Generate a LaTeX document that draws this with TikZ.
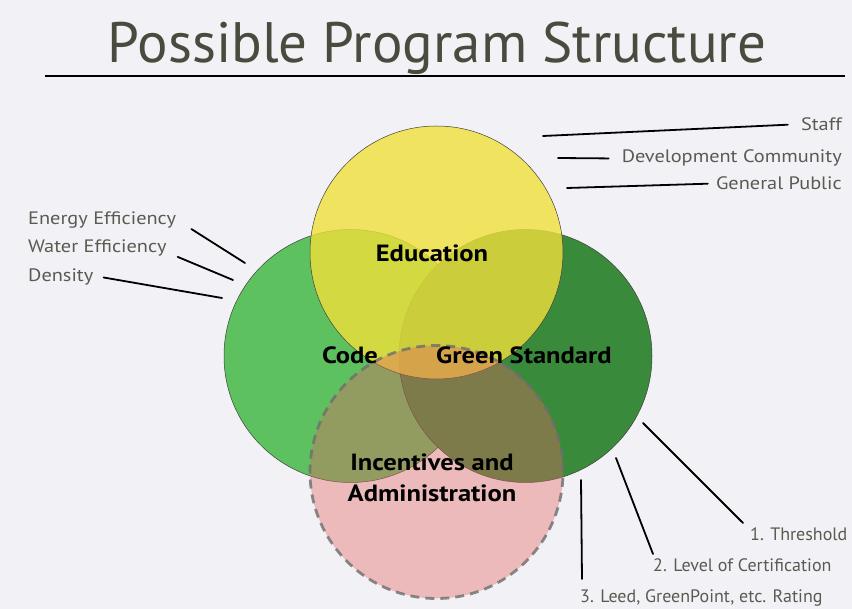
\documentclass[tikz,border=0pt]{standalone}
\usepackage{fontspec}
\setmainfont{PT Sans}
\newfontfamily\widefont[FakeStretch=1.13]{PT Sans}
\usetikzlibrary{positioning}
\definecolor{paper}{HTML}{F2F2F6}
\definecolor{ink}{HTML}{5A5A52}
\definecolor{titleink}{HTML}{4A4A3E}
\definecolor{codegreen}{HTML}{5EC160}
\definecolor{stdgreen}{HTML}{3A8A3C}
\definecolor{eduyellow}{HTML}{F0E03A}
\definecolor{incpink}{HTML}{E46662}
\definecolor{rimgray}{HTML}{6E6E6E}
\tikzset{
  venn/.style={circle, minimum size=253pt, inner sep=0pt, draw=black!75, line width=0.5pt},
  lead/.style={draw=black, line width=1.8pt, line cap=round},
  side/.style={text=ink, font=\widefont\fontsize{18}{21}\selectfont, inner sep=0pt},
  sidetight/.style={side, font=\fontsize{18}{21}\selectfont},
  big/.style={text=black, font=\widefont\bfseries\fontsize{23.5}{31}\selectfont, align=center, inner sep=0pt},
}
\begin{document}
\begin{tikzpicture}[x=1pt,y=-1pt]
  \fill[paper] (0,0) rectangle (852,609);
  \useasboundingbox (0,0) rectangle (852,609);
  % title
  \node[text=titleink, font=\fontsize{57}{60}\selectfont, anchor=base] (title) at (437,63) {Possible Program Structure};
  \draw[line width=1.8pt] (45,76) -- (845,76);
  % the four circles
  \node[venn, fill=codegreen] (code) at (350.5,356) {};
  \node[venn, fill=stdgreen] (std) at (525.5,356) {};
  \node[venn, fill=eduyellow, fill opacity=0.8] (edu) at (436.5,252.5) {};
  \node[venn, fill=incpink, fill opacity=0.4, draw=rimgray, draw opacity=0.8,
        line width=2.8pt, dash pattern=on 9pt off 6pt] (inc) at (436.5,472) {};
  \node[big] (edu-lab) at (432,253) {Education};
  \node[big] (code-lab) at (350,355) {Code};
  \node[big] (std-lab) at (524,355) {Green Standard};
  \node[big] (inc-lab) at (432,478) {Incentives and\\Administration};
  % education
  \node[side, anchor=base east] (staff) at (842,131) {Staff};
  \node[side, anchor=base east] (dev) at (842,163) {Development Community};
  \node[side, anchor=base east] (pub) at (842,190) {General Public};
  \coordinate (c-staff) at (543,136);
  \coordinate (c-dev) at (558,158);
  \coordinate (c-pub) at (567,188);
  \draw[lead] ([xshift=-13pt]staff.west) -- (c-staff);
  \draw[lead] ([xshift=-13pt]dev.west) -- (c-dev);
  \draw[lead] ([xshift=-8pt]pub.west) -- (c-pub);
  % code
  \node[side, anchor=base west] (energy) at (28,225) {Energy Efficiency};
  \node[side, anchor=base west] (water) at (28,253) {Water Efficiency};
  \node[side, anchor=base west] (density) at (28,282) {Density};
  \coordinate (c-energy) at (245,263);
  \coordinate (c-water) at (233,280);
  \coordinate (c-density) at (222,298);
  \draw[lead] ([xshift=15pt]energy.south east) -- (c-energy);
  \draw[lead] ([xshift=11pt]water.south east) -- (c-water);
  \draw[lead] ([xshift=10pt]density.east) -- (c-density);
  % green standard
  \node[sidetight, anchor=base west] (thr) at (750,540) {1. Threshold};
  \node[sidetight, anchor=base west] (lvl) at (653,572) {2. Level of Certification};
  \node[sidetight, anchor=base west] (rat) at (580,602) {3. Leed, GreenPoint, etc. Rating};
  \coordinate (c-thr) at (643,423);
  \coordinate (c-lvl) at (616,458);
  \coordinate (c-rat) at (581,480);
  \draw[lead] ([xshift=-7pt,yshift=4pt]thr.north west) -- (c-thr);
  \draw[lead] ([yshift=5pt]lvl.north west) -- (c-lvl);
  \draw[lead] ([xshift=2pt,yshift=10pt]rat.north west) -- (c-rat);
\end{tikzpicture}
\end{document}
